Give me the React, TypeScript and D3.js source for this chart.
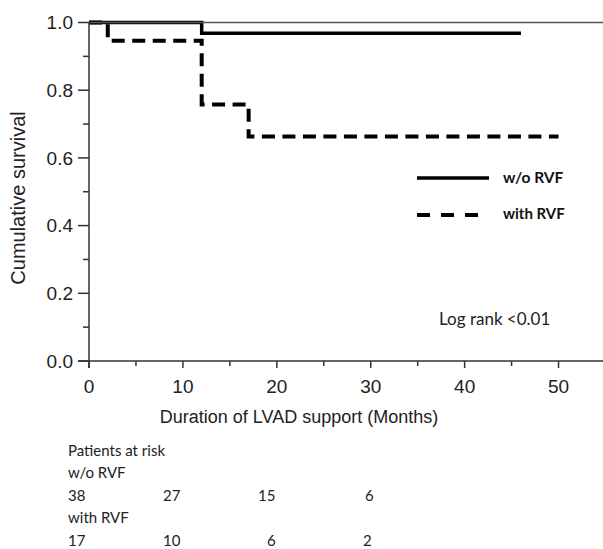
import React from "react";
import * as d3 from "d3";

const xTicks = [0, 10, 20, 30, 40, 50];
const xMinorTicks = [5, 15, 25, 35, 45];
const yTicks = [0, 0.2, 0.4, 0.6, 0.8, 1.0];
const yMinorTicks = [0.1, 0.3, 0.5, 0.7, 0.9];

const withoutTimes = [0, 12, 46];
const withoutSurv = [1.0, 0.968, 0.968];
const withTimes = [0, 2, 12, 17, 50];
const withSurv = [1.0, 0.946, 0.758, 0.663, 0.663];

const riskLabels = ["Patients at risk", "w/o RVF", "with RVF"];
const riskWithout = ["38", "27", "15", "6"];
const riskWith = ["17", "10", "6", "2"];

const W = 603;
const H = 549;

export default function App() {
  const x = d3.scaleLinear().domain([0, 55]).range([89, 605.5]);
  const y = d3.scaleLinear().domain([0, 1]).range([361, 22.5]);
  const line = d3
    .line<[number, number]>()
    .x((d) => x(d[0]))
    .y((d) => y(d[1]))
    .curve(d3.curveStepAfter);
  const pWithout = line(withoutTimes.map((t, i) => [t, withoutSurv[i]] as [number, number])) || "";
  const pWith = line(withTimes.map((t, i) => [t, withSurv[i]] as [number, number])) || "";

  const axisColor = "#333";
  const helv = "'Liberation Sans', Arial, sans-serif";
  const cal = "Lato, 'Open Sans', sans-serif";
  const colX1 = [68, 163, 258, 365];
  const colX2 = [68, 163, 267, 363];

  return (
    <svg width={W} height={H} style={{ position: "absolute", left: 0, top: 0 }}>
      <rect x={0} y={0} width={W} height={H} fill="#fff" />
      {/* curves */}
      <path d={pWithout} fill="none" stroke="#000" strokeWidth={3.5} />
      <path d={pWith} fill="none" stroke="#000" strokeWidth={4} strokeDasharray="13 7.5" />
      {/* top line */}
      <line x1={x(0)} x2={W} y1={y(1)} y2={y(1)} stroke="#555" strokeWidth={1.5} />
      {/* y axis */}
      <line x1={x(0)} x2={x(0)} y1={y(1)} y2={y(0) + 7} stroke={axisColor} strokeWidth={1.5} />
      {yTicks.map((t) => (
        <g key={"y" + t}>
          <line x1={x(0) - 11} x2={x(0)} y1={y(t)} y2={y(t)} stroke={axisColor} strokeWidth={1.5} />
          <text x={x(0) - 16} y={y(t)} dy="0.36em" textAnchor="end" fontFamily={helv} fontSize={19} fill="#222">
            {t.toFixed(1)}
          </text>
        </g>
      ))}
      {yMinorTicks.map((t) => (
        <line key={"ym" + t} x1={x(0) - 6} x2={x(0)} y1={y(t)} y2={y(t)} stroke={axisColor} strokeWidth={1.5} />
      ))}
      {/* x axis */}
      <line x1={x(0) - 11} x2={W} y1={y(0)} y2={y(0)} stroke={axisColor} strokeWidth={1.5} />
      {xTicks.map((t) => (
        <g key={"x" + t}>
          <line x1={x(t)} x2={x(t)} y1={y(0)} y2={y(0) + 7} stroke={axisColor} strokeWidth={1.5} />
          <text x={x(t)} y={y(0) + 32} textAnchor="middle" fontFamily={helv} fontSize={19} fill="#222">
            {t}
          </text>
        </g>
      ))}
      {xMinorTicks.map((t) => (
        <line key={"xm" + t} x1={x(t)} x2={x(t)} y1={y(0)} y2={y(0) + 5} stroke={axisColor} strokeWidth={1.5} />
      ))}
      {/* axis titles */}
      <text
        transform={`translate(25, ${198}) rotate(-90)`}
        textAnchor="middle"
        fontFamily={helv}
        fontSize={20}
        fill="#222"
      >
        Cumulative survival
      </text>
      <text x={299} y={423} textAnchor="middle" fontFamily={helv} fontSize={18} fill="#222">
        Duration of LVAD support (Months)
      </text>
      {/* legend */}
      <line x1={417} x2={489} y1={178} y2={178} stroke="#000" strokeWidth={3.5} />
      <line x1={417} x2={485} y1={215} y2={215} stroke="#000" strokeWidth={4} strokeDasharray="13 11" />
      <text x={503} y={183} fontFamily={cal} fontWeight="bold" fontSize={15.5} fill="#111">
        w/o RVF
      </text>
      <text x={503} y={219} fontFamily={cal} fontWeight="bold" fontSize={15} fill="#111">
        with RVF
      </text>
      <text x={439} y={325} fontFamily={cal} fontSize={17} fill="#222">
        Log rank &lt;0.01
      </text>
      {/* risk table */}
      <text x={68} y={456} fontFamily={cal} fontSize={15} fill="#222">{riskLabels[0]}</text>
      <text x={68} y={478} fontFamily={cal} fontSize={15} fill="#222">{riskLabels[1]}</text>
      {riskWithout.map((v, i) => (
        <text key={"rw" + i} x={colX1[i]} y={501} fontFamily={cal} fontSize={15} fill="#222">{v}</text>
      ))}
      <text x={68} y={523} fontFamily={cal} fontSize={15} fill="#222">{riskLabels[2]}</text>
      {riskWith.map((v, i) => (
        <text key={"rv" + i} x={colX2[i]} y={546} fontFamily={cal} fontSize={15} fill="#222">{v}</text>
      ))}
    </svg>
  );
}
